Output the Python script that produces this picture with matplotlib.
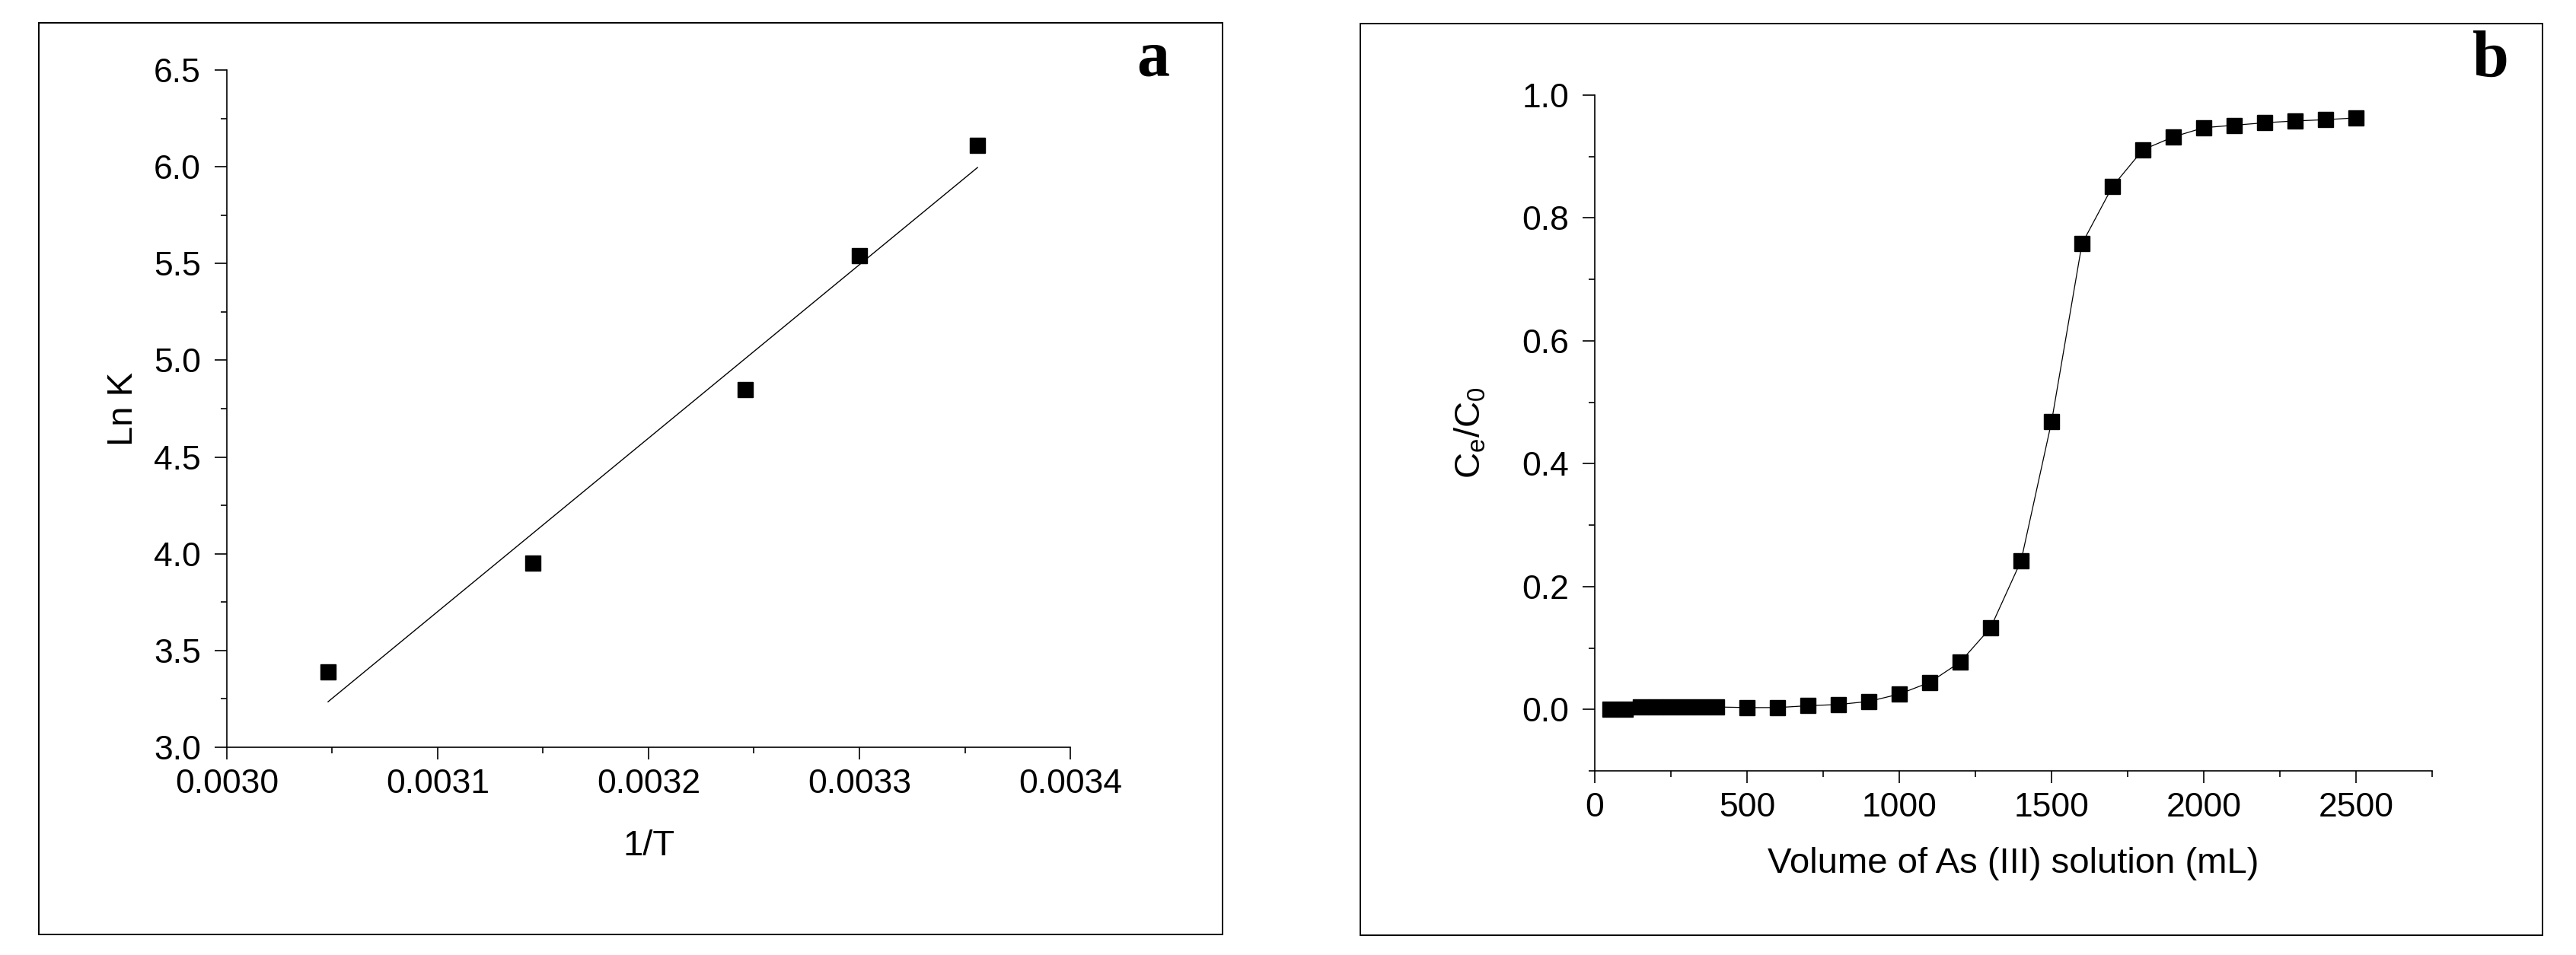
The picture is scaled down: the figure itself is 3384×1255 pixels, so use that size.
import matplotlib
matplotlib.use("Agg")
import matplotlib.pyplot as plt
from matplotlib.patches import Rectangle
from matplotlib.ticker import MultipleLocator, FormatStrFormatter
import numpy as np

plt.rcParams["font.family"] = ["Liberation Sans", "DejaVu Sans"]
plt.rcParams["mathtext.default"] = "regular"

# panel a: Ln K against 1/T
inv_t = [0.003048, 0.003145, 0.003246, 0.003300, 0.003356]
ln_k = [3.39, 3.95, 4.85, 5.54, 6.11]

# panel b: breakthrough curve
volume = [50, 100, 150, 200, 250, 300, 350, 400,
          500, 600, 700, 800, 900, 1000, 1100, 1200, 1300, 1400, 1500,
          1600, 1700, 1800, 1900, 2000, 2100, 2200, 2300, 2400, 2500]
ce_c0 = [0.0, 0.0, 0.004, 0.004, 0.004, 0.004, 0.004, 0.004,
         0.003, 0.003, 0.006, 0.008, 0.013, 0.025, 0.044, 0.077, 0.133, 0.242, 0.468,
         0.758, 0.851, 0.911, 0.932, 0.947, 0.951, 0.955, 0.958, 0.960, 0.963]

W, H = 3384, 1255
TICK_FS = 32
LABEL_FS = 34


def frac(x0, y_top, x1, y_bot):
    # pixel box -> figure fraction [left, bottom, width, height]
    return [x0 / W, 1 - y_bot / H, (x1 - x0) / W, (y_bot - y_top) / H]


def style_axes(ax):
    for side in ["top", "right"]:
        ax.spines[side].set_visible(False)
    for side in ["left", "bottom"]:
        ax.spines[side].set_linewidth(1.2)
    ax.tick_params(which="both", direction="out", width=1.2, top=False, right=False)
    ax.tick_params(which="major", length=11.5, labelsize=TICK_FS)
    ax.tick_params(axis="y", which="major", pad=13)
    ax.tick_params(axis="x", which="major", pad=9)
    ax.tick_params(which="minor", length=6)


fig = plt.figure(figsize=(W / 100, H / 100), dpi=100)

# outer frames
for box in [(51, 30, 1606, 1228), (1787, 31, 3340, 1229)]:
    fig.patches.append(Rectangle((box[0] / W, 1 - box[3] / H), (box[2] - box[0]) / W,
                                 (box[3] - box[1]) / H, transform=fig.transFigure,
                                 fill=False, lw=1.4, ec="black"))

# ---- panel a
ax1 = fig.add_axes(frac(298, 92, 1406, 982))
ax1.plot(inv_t, ln_k, "s", color="black", ms=14)
slope, intercept = np.polyfit(inv_t, ln_k, 1)
x_fit = np.array([min(inv_t), max(inv_t)])
ax1.plot(x_fit, slope * x_fit + intercept, color="black", lw=1.0)
ax1.set_xlim(0.0030, 0.0034)
ax1.set_ylim(3.0, 6.5)
ax1.xaxis.set_major_locator(MultipleLocator(0.0001))
ax1.xaxis.set_minor_locator(MultipleLocator(0.00005))
ax1.xaxis.set_major_formatter(FormatStrFormatter("%.4f"))
ax1.yaxis.set_major_locator(MultipleLocator(0.5))
ax1.yaxis.set_minor_locator(MultipleLocator(0.25))
ax1.yaxis.set_major_formatter(FormatStrFormatter("%.1f"))
style_axes(ax1)
ax1.set_xlabel("1/T", fontsize=LABEL_FS, labelpad=28)
ax1.set_ylabel("Ln K", fontsize=LABEL_FS, labelpad=13)

# ---- panel b
ax2 = fig.add_axes(frac(2095, 125, 3195, 1013))
ax2.plot(volume, ce_c0, "-", color="black", lw=0.9)
ax2.plot(volume, ce_c0, "s", color="black", ms=14)
ax2.set_xlim(0, 2750)
ax2.set_ylim(-0.1, 1.0)
ax2.xaxis.set_major_locator(MultipleLocator(500))
ax2.xaxis.set_minor_locator(MultipleLocator(250))
ax2.yaxis.set_major_locator(MultipleLocator(0.2))
ax2.yaxis.set_minor_locator(MultipleLocator(0.1))
ax2.yaxis.set_major_formatter(FormatStrFormatter("%.1f"))
style_axes(ax2)
ax2.set_xlabel("Volume of As (III) solution (mL)", fontsize=LABEL_FS, labelpad=22)
ax2.set_ylabel("C$_e$/C$_0$", fontsize=LABEL_FS, labelpad=32)

# panel letters
fig.text(1515 / W, 1 - 100 / H, "a", family=["Liberation Serif"], weight="bold",
         fontsize=62, ha="center", va="baseline")
fig.text(3272 / W, 1 - 100 / H, "b", family=["Liberation Serif"], weight="bold",
         fontsize=62, ha="center", va="baseline")

fig.savefig("out.png", dpi=100)
